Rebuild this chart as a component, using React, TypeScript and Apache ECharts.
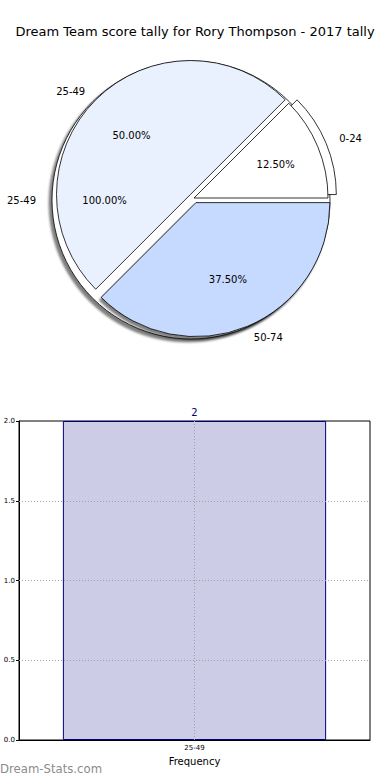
import React, { useEffect, useRef } from "react";
import * as echarts from "echarts";

const TITLE = "Dream Team score tally for Rory Thompson - 2017 tally";
const WATERMARK = "Dream-Stats.com";

// pie drawn on top: three score bands
const pieCategories = ["0-24", "25-49", "50-74"];
const pieCounts = [1, 4, 3];
// pie drawn underneath: one score band
const basePieCategories = ["25-49"];
const basePieCounts = [2];

// histogram below
const barCategories = ["25-49"];
const barValues = [2];
const yTicks = [0, 0.5, 1.0, 1.5, 2.0];
const xAxisName = "Frequency";

const FONT = "DejaVu Sans";
const pieFill: Record<string, string> = {
  "0-24": "#ffffff",
  "25-49": "#eaf1fe",
  "50-74": "#c6d9fe",
};
const NAVY = "#000080";

export default function App() {
  const ref = useRef<HTMLDivElement>(null);
  useEffect(() => {
    document.body.style.margin = "0";
    if (!ref.current) return;
    const chart = echarts.init(ref.current, null, { renderer: "svg" });

    const C: [number, number] = [194, 198];
    const R = 134;
    const BC: [number, number] = [191, 200];
    const BR = 139;
    const T = "rgba(0,0,0,0)";
    const pct = (p: any) => p.percent.toFixed(2) + "%";
    const nameLabel = {
      show: true,
      position: "outside",
      formatter: "{b}",
      color: "#000",
      fontSize: 10,
      fontFamily: FONT,
      distanceToLabelLine: 2,
    };
    const noLine = { show: false, length: 12, length2: 0 };
    const common = {
      type: "pie",
      startAngle: 0,
      clockwise: false,
      avoidLabelOverlap: false,
      silent: true,
      emphasis: { disabled: true },
      animation: false,
    };

    const option: any = {
      animation: false,
      title: {
        text: TITLE,
        left: "center",
        top: 20,
        textStyle: { fontSize: 13, fontWeight: "normal", color: "#000", fontFamily: FONT },
      },
      graphic: [
        {
          type: "text",
          left: 0,
          top: 763,
          style: { text: WATERMARK, fill: "#8c8c8c", fontSize: 11.7, fontFamily: FONT },
        },
      ],
      grid: {
        left: 19,
        right: 20,
        top: 421,
        bottom: 40,
        show: true,
        borderColor: "#000",
        borderWidth: 1,
      },
      xAxis: {
        type: "category",
        data: barCategories,
        name: xAxisName,
        nameLocation: "middle",
        nameGap: 16,
        nameTextStyle: { fontSize: 10, color: "#000", fontFamily: FONT },
        axisLine: { lineStyle: { color: "#000" } },
        axisTick: { show: false },
        axisLabel: { fontSize: 7, color: "#000", fontFamily: FONT, margin: 4 },
        splitLine: { show: false },
      },
      yAxis: {
        type: "value",
        min: yTicks[0],
        max: yTicks[yTicks.length - 1],
        interval: 0.5,
        axisLine: { show: true, lineStyle: { color: "#000" } },
        axisTick: { show: true, length: 3, lineStyle: { color: "#000" } },
        axisLabel: {
          fontSize: 7,
          color: "#000",
          fontFamily: FONT,
          margin: 4,
          formatter: (v: number) => v.toFixed(1),
        },
        splitLine: { show: false },
      },
      series: [
        // underlying single-band pie with shadow
        {
          ...common,
          center: BC,
          radius: BR,
          data: basePieCategories.map((n, i) => ({ name: n, value: basePieCounts[i] })),
          itemStyle: {
            color: "#ffffff",
            borderColor: "#000",
            borderWidth: 0.8,
            shadowColor: "rgba(0,0,0,0.5)",
            shadowBlur: 2,
            shadowOffsetX: -3,
            shadowOffsetY: 3,
          },
          label: nameLabel,
          labelLine: { show: false, length: 14, length2: 0 },
        },
        // exploded 0-24 wedge
        {
          ...common,
          center: C,
          radius: R,
          selectedMode: "multiple",
          selectedOffset: 9,
          data: pieCategories.map((n, i) => ({
            name: n,
            value: pieCounts[i],
            selected: n === "0-24",
            itemStyle:
              n === "0-24"
                ? { color: pieFill[n], borderColor: "#000", borderWidth: 0.8 }
                : { color: T, borderWidth: 0 },
            label: n === "0-24" ? nameLabel : { show: false },
          })),
          labelLine: noLine,
        },
        // three-band pie
        {
          ...common,
          center: C,
          radius: R,
          selectedMode: "multiple",
          selectedOffset: 5,
          data: pieCategories.map((n, i) => ({
            name: n,
            value: pieCounts[i],
            selected: n !== "0-24",
            itemStyle: {
              color: pieFill[n],
              borderColor: "#000",
              borderWidth: 0.8,
              ...(n === "50-74"
                ? { shadowColor: "rgba(0,0,0,0.5)", shadowBlur: 2, shadowOffsetX: -2, shadowOffsetY: 3 }
                : {}),
            },
            label: n !== "0-24" ? nameLabel : { show: false },
          })),
          labelLine: noLine,
        },
        // percentage labels, three-band pie
        {
          ...common,
          center: C,
          radius: R * 1.2,
          selectedMode: "multiple",
          selectedOffset: 5,
          data: pieCategories.map((n, i) => ({ name: n, value: pieCounts[i], selected: true })),
          itemStyle: { color: T, borderWidth: 0 },
          label: { show: true, position: "inside", formatter: pct, color: "#000", fontSize: 10, fontFamily: FONT },
          labelLine: { show: false },
        },
        // percentage label, single-band pie
        {
          ...common,
          center: BC,
          radius: BR * 1.2,
          data: basePieCategories.map((n, i) => ({ name: n, value: basePieCounts[i] })),
          itemStyle: { color: T, borderWidth: 0 },
          label: { show: true, position: "inside", formatter: pct, color: "#000", fontSize: 10, fontFamily: FONT },
          labelLine: { show: false },
        },
        // histogram
        {
          type: "bar",
          data: barValues,
          barWidth: "75%",
          silent: true,
          itemStyle: { color: "rgba(0,0,128,0.2)", borderColor: NAVY, borderWidth: 1 },
          label: { show: true, position: "top", distance: 4, color: NAVY, fontSize: 10, fontFamily: FONT },
          markLine: {
            silent: true,
            symbol: "none",
            label: { show: false },
            lineStyle: { color: "#a0a0a0", type: [1, 2], width: 1 },
            data: [
              ...yTicks.slice(1, -1).map((v) => ({ yAxis: v })),
              ...barCategories.map((c) => ({ xAxis: c })),
            ],
          },
        },
      ],
    };
    chart.setOption(option);
    return () => chart.dispose();
  }, []);
  return <div ref={ref} style={{ width: 390, height: 780 }} />;
}
